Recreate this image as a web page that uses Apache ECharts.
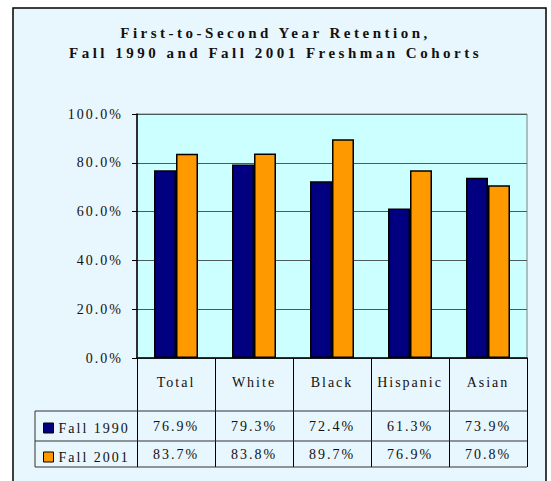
<!DOCTYPE html>
<html>
<head>
<meta charset="utf-8">
<script src="https://cdn.jsdelivr.net/npm/echarts@6/dist/echarts.min.js"></script>
<style>
  html, body { margin: 0; padding: 0; background: #fff; }
  #chart { width: 551px; height: 481px; }
  /* spaced-out lettering like the original */
  #chart text { letter-spacing: 2px; }
  #chart text[style*="bold"] { letter-spacing: 3.5px; }
</style>
</head>
<body>
<div id="chart"></div>
<script>
const categories = ['Total', 'White', 'Black', 'Hispanic', 'Asian']
const fall1990 = [76.9, 79.3, 72.4, 61.3, 73.9]
const fall2001 = [83.7, 83.8, 89.7, 76.9, 70.8]
const seriesNames = ['Fall 1990', 'Fall 2001']
const yTicks = [0, 20, 40, 60, 80, 100]

const fmt = v => v.toFixed(1) + '%'
const serif = 'Liberation Serif, Times New Roman, serif'

const chart = echarts.init(document.getElementById('chart'), null, { renderer: 'svg' })

// table rule lines (left part + full horizontal rules)
const tableLines = [
  [35, 411, 527, 411],
  [35, 441, 527, 441],
  [35, 467, 527, 467],
  [35, 411, 35, 467]
].map(p => ({
  type: 'line',
  z: 5,
  shape: { x1: p[0], y1: p[1], x2: p[2], y2: p[3] },
  style: { stroke: '#333', lineWidth: 1 }
}))

chart.setOption({
  backgroundColor: '#fff',
  animation: false,
  color: ['#000080', '#FF9900'],
  title: {
    text: 'First-to-Second Year Retention,\nFall 1990 and Fall 2001 Freshman Cohorts',
    left: 'center',
    top: 18,
    textStyle: {
      fontFamily: serif,
      fontWeight: 'bold',
      fontSize: 15,
      lineHeight: 20,
      color: '#111'
    }
  },
  legend: {
    data: seriesNames,
    orient: 'vertical',
    left: 38,
    top: 416,
    itemWidth: 10,
    itemHeight: 10,
    itemGap: 15,
    icon: 'rect',
    textStyle: { fontFamily: serif, fontSize: 14, color: '#111' },
    itemStyle: { borderColor: '#000', borderWidth: 1 }
  },
  graphic: [
    {
      type: 'rect',
      z: -10,
      silent: true,
      shape: { x: 13, y: 8, width: 533, height: 490 },
      style: { fill: '#E8F6FE', stroke: '#000', lineWidth: 1.5 }
    }
  ].concat(tableLines),
  grid: {
    left: 137,
    right: 24,
    top: 114,
    bottom: 123,
    show: true,
    backgroundColor: '#CCFFFF',
    borderColor: '#808080',
    borderWidth: 1
  },
  xAxis: [
    {
      type: 'category',
      data: categories,
      axisLine: { lineStyle: { color: '#000', width: 1.5 } },
      axisTick: { show: true, length: 53, interval: 0, lineStyle: { color: '#000' } },
      axisLabel: { margin: 17, fontFamily: serif, fontSize: 14, color: '#111', interval: 0 }
    },
    {
      type: 'category',
      position: 'bottom',
      offset: 53,
      data: fall1990.map(fmt),
      axisLine: { show: false },
      axisTick: { show: true, length: 30, interval: 0, lineStyle: { color: '#000' } },
      axisLabel: { margin: 8, fontFamily: serif, fontSize: 14, color: '#111', interval: 0 }
    },
    {
      type: 'category',
      position: 'bottom',
      offset: 83,
      data: fall2001.map(fmt),
      axisLine: { show: false },
      axisTick: { show: true, length: 26, interval: 0, lineStyle: { color: '#000' } },
      axisLabel: { margin: 6, fontFamily: serif, fontSize: 14, color: '#111', interval: 0 }
    }
  ],
  yAxis: {
    type: 'value',
    min: yTicks[0],
    max: yTicks[yTicks.length - 1],
    interval: 20,
    axisLine: { show: true, lineStyle: { color: '#000', width: 1.5 } },
    axisTick: { show: true, length: 5, lineStyle: { color: '#000' } },
    axisLabel: { formatter: fmt, margin: 14, fontFamily: serif, fontSize: 14, color: '#111' },
    splitLine: { lineStyle: { color: '#4d5a5a', width: 1 } }
  },
  series: [
    {
      name: seriesNames[0],
      type: 'bar',
      data: fall1990,
      barWidth: 22,
      barGap: '0%',
      itemStyle: { borderColor: '#000', borderWidth: 1.5 }
    },
    {
      name: seriesNames[1],
      type: 'bar',
      data: fall2001,
      barWidth: 22,
      itemStyle: { borderColor: '#000', borderWidth: 1.5 }
    }
  ]
})
</script>
</body>
</html>
